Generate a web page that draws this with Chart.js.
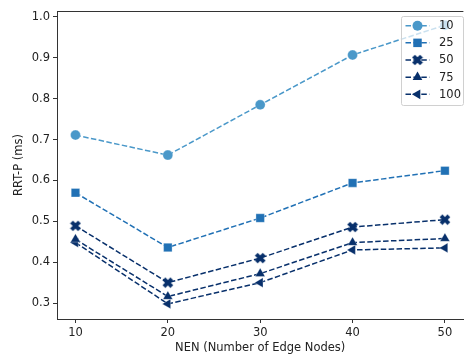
<!DOCTYPE html>
<html>
<head>
<meta charset="utf-8">
<script src="https://cdn.jsdelivr.net/npm/chart.js@4/dist/chart.umd.min.js"></script>
<style>
  html, body { margin: 0; padding: 0; background: #fff; overflow: hidden; }
  #wrap { width: 470px; height: 358px; }
</style>
</head>
<body>
<div id="wrap"><canvas id="c" width="470" height="358"></canvas></div>
<script>
// données
const nen = [10, 20, 30, 40, 50];
const labels = ["10", "25", "50", "75", "100"];
const s10 = [0.711, 0.662, 0.785, 0.907, 0.980];
const s25 = [0.570, 0.436, 0.508, 0.594, 0.624];
const s50 = [0.489, 0.350, 0.410, 0.486, 0.504];
const s75 = [0.456, 0.316, 0.372, 0.448, 0.458];
const s100 = [0.448, 0.298, 0.350, 0.430, 0.435];
const xTicks = [10, 20, 30, 40, 50];
const yTicks = [0.3, 0.4, 0.5, 0.6, 0.7, 0.8, 0.9, 1.0];

const colors = ["#4a98c9", "#2171b5", "#08306b", "#08306b", "#08306b"];
const FONT = "DejaVu Sans";
const FSIZE = 11.5;

// marqueur "X" plein façon matplotlib
function makeX(color) {
  const c = document.createElement("canvas");
  c.width = 12; c.height = 12;
  const g = c.getContext("2d");
  g.translate(6, 6);
  g.rotate(Math.PI / 4);
  const a = 5.6, b = 2.0;
  g.beginPath();
  g.moveTo(-b, -a); g.lineTo(b, -a); g.lineTo(b, -b); g.lineTo(a, -b);
  g.lineTo(a, b); g.lineTo(b, b); g.lineTo(b, a); g.lineTo(-b, a);
  g.lineTo(-b, b); g.lineTo(-a, b); g.lineTo(-a, -b); g.lineTo(-b, -b);
  g.closePath();
  g.fillStyle = color;
  g.fill();
  return c;
}

const styles = [
  { pointStyle: "circle", radius: 5, rotation: 0 },
  { pointStyle: "rect", radius: 6, rotation: 0 },
  { pointStyle: makeX(colors[2]), radius: 5, rotation: 0 },
  { pointStyle: "triangle", radius: 5.6, rotation: 0 },
  { pointStyle: "triangle", radius: 5.6, rotation: -90 }
];

const series = [s10, s25, s50, s75, s100];
const datasets = series.map((s, i) => ({
  label: labels[i],
  data: nen.map((x, j) => ({ x: x, y: s[j] })),
  borderColor: colors[i],
  backgroundColor: colors[i],
  borderWidth: 1.5,
  borderDash: [5.5, 2.4],
  pointStyle: styles[i].pointStyle,
  pointRadius: styles[i].radius,
  pointRotation: styles[i].rotation,
  pointBorderColor: "rgba(255,255,255,0.5)",
  pointBorderWidth: 0.6,
  tension: 0
}));

// cadre du haut + légende style matplotlib
const extras = {
  id: "extras",
  afterDraw(chart) {
    const ctx = chart.ctx;
    const a = chart.chartArea;
    ctx.save();
    ctx.strokeStyle = "#333";
    ctx.lineWidth = 1;
    ctx.beginPath();
    ctx.moveTo(a.left, a.top + 0.5);
    ctx.lineTo(a.right, a.top + 0.5);
    ctx.stroke();

    // boîte de légende
    const bx = 401.5, by = 16.5, bw = 62, bh = 89;
    ctx.fillStyle = "rgba(255,255,255,0.7)";
    ctx.strokeStyle = "#d0d0d0";
    ctx.beginPath();
    ctx.roundRect(bx, by, bw, bh, 2);
    ctx.fill();
    ctx.stroke();

    ctx.font = FSIZE + "px '" + FONT + "'";
    ctx.textBaseline = "middle";
    ctx.textAlign = "left";
    labels.forEach((lab, i) => {
      const y = 25.7 + i * 17.15;
      ctx.strokeStyle = colors[i];
      ctx.lineWidth = 1.5;
      ctx.setLineDash([5.5, 2.4]);
      ctx.beginPath();
      ctx.moveTo(405.5, y);
      ctx.lineTo(429.5, y);
      ctx.stroke();
      ctx.setLineDash([]);
      ctx.fillStyle = colors[i];
      Chart.helpers.drawPoint(ctx, {
        pointStyle: styles[i].pointStyle,
        radius: styles[i].radius,
        rotation: styles[i].rotation,
        borderWidth: 0
      }, 417.5, y);
      ctx.fillStyle = "#222";
      ctx.fillText(lab, 439, y + 0.5);
    });
    ctx.restore();
  }
};

new Chart(document.getElementById("c"), {
  type: "line",
  data: { datasets: datasets },
  options: {
    responsive: false,
    animation: false,
    layout: { padding: { top: 11, right: 0, left: 0, bottom: 0 } },
    plugins: { legend: { display: false }, tooltip: { enabled: false } },
    scales: {
      x: {
        type: "linear",
        min: 8, max: 52,
        afterBuildTicks: (sc) => { sc.ticks = xTicks.map(v => ({ value: v })); },
        afterFit: (sc) => { sc.height = 39; },
        grid: { drawOnChartArea: false, drawTicks: true, tickLength: 4, color: "#333" },
        border: { color: "#333", width: 1 },
        ticks: { color: "#222", padding: 3, font: { family: FONT, size: FSIZE } },
        title: { display: true, text: "NEN (Number of Edge Nodes)", color: "#222",
                 font: { family: FONT, size: FSIZE }, padding: { top: 4, bottom: 3 } }
      },
      y: {
        min: 0.261, max: 1.0146,
        afterBuildTicks: (sc) => { sc.ticks = yTicks.map(v => ({ value: v })); },
        afterFit: (sc) => { sc.width = 57; },
        grid: { drawOnChartArea: false, drawTicks: true, tickLength: 4, color: "#333" },
        border: { color: "#333", width: 1 },
        ticks: { color: "#222", padding: 3, font: { family: FONT, size: FSIZE },
                 callback: (v) => v.toFixed(1) },
        title: { display: true, text: "RRT-P (ms)", color: "#222",
                 font: { family: FONT, size: FSIZE }, padding: { top: 12, bottom: 4 } }
      }
    }
  },
  plugins: [extras]
});
</script>
</body>
</html>
